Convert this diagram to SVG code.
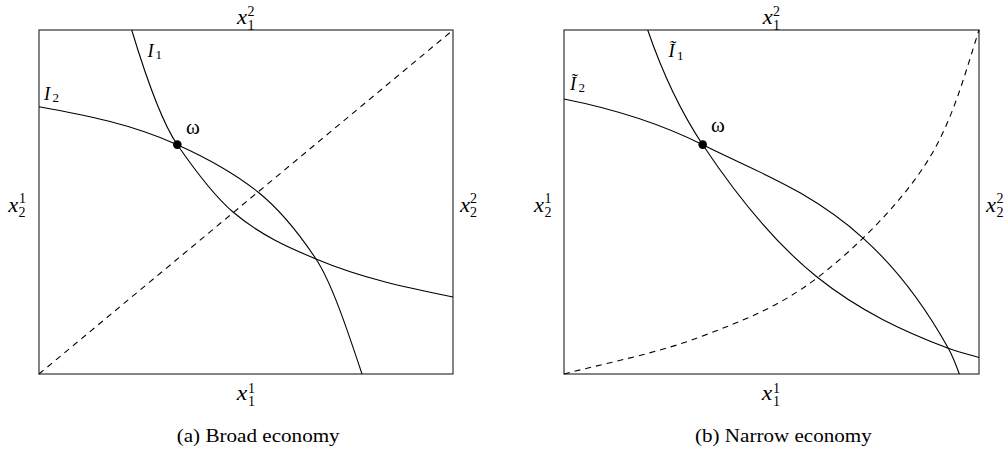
<svg xmlns="http://www.w3.org/2000/svg" width="1008" height="450" viewBox="0 0 1008 450">
<style>
.box{fill:none;stroke:#333;stroke-width:1.2}
.curve{fill:none;stroke:#000;stroke-width:1.1}
.dash{fill:none;stroke:#000;stroke-width:1.1;stroke-dasharray:6 5}
.mi{font-family:"Liberation Serif",serif;font-style:italic;font-size:20px;fill:#000}
.sc{font-family:"Liberation Serif",serif;font-size:14px;fill:#000}
.il{font-family:"Liberation Serif",serif;font-style:italic;font-size:18.5px;fill:#000}
.isc{font-family:"Liberation Serif",serif;font-size:13px;fill:#000}
.om{font-family:"Liberation Serif",serif;font-size:21px;fill:#000}
.cap{font-family:"Liberation Serif",serif;font-size:18.5px;fill:#000}
</style>
<rect width="1008" height="450" fill="#fff"/>

<g id="panel-a">
  <rect id="box-a" class="box" x="39" y="30" width="414" height="344"/>
  <g id="connectors-a">
    <path id="diag-a" class="dash" d="M39,374 L453,30"/>
    <path id="I1-a" class="curve" d="M131.7,30 C146.9,80.2 162.1,122.7 177.3,144.7 C195.9,171.6 214.4,196.2 233,212 C260.7,235.5 288.3,247.4 316,259 C361.7,278.2 407.3,287.9 453,297"/>
    <path id="I2-a" class="curve" d="M39,106.7 C85.1,115 131.2,124 177.3,144.7 C204.2,156.8 231.1,170.5 258,192 C277.3,207.5 296.7,230 316,259 C331.3,282 346.7,328 362,374"/>
  </g>
  <g id="omega-a">
    <circle cx="177.3" cy="144.6" r="4.3" fill="#000"/>
    <text class="om" x="186" y="133.5">ω</text>
  </g>
  <g id="label-I1-a"><text class="il" x="147.5" y="56.5">I</text><text class="isc" x="155.5" y="59">1</text></g>
  <g id="label-I2-a"><text class="il" x="44" y="99.5">I</text><text class="isc" x="52.5" y="102">2</text></g>
  <g id="label-top-a"><text class="mi" x="237" y="23.5" textLength="10" lengthAdjust="spacingAndGlyphs">x</text><text class="sc" x="247.5" y="16">2</text><text class="sc" x="247.5" y="29.5">1</text></g>
  <g id="label-bottom-a"><text class="mi" x="236.7" y="400" textLength="10.5" lengthAdjust="spacingAndGlyphs">x</text><text class="sc" x="248" y="392.5">1</text><text class="sc" x="248" y="406">1</text></g>
  <g id="label-left-a"><text class="mi" x="8.3" y="211.5" textLength="10" lengthAdjust="spacingAndGlyphs">x</text><text class="sc" x="19" y="203">1</text><text class="sc" x="18.5" y="217">2</text></g>
  <g id="label-right-a"><text class="mi" x="460" y="211.5" textLength="10" lengthAdjust="spacingAndGlyphs">x</text><text class="sc" x="470" y="203">2</text><text class="sc" x="470" y="217">2</text></g>
  <text id="caption-a" class="cap" x="176.7" y="441.5" textLength="163" lengthAdjust="spacingAndGlyphs">(a) Broad economy</text>
</g>

<g id="panel-b">
  <rect id="box-b" class="box" x="564" y="30" width="415" height="344"/>
  <g id="connectors-b">
    <path id="curve-b" class="dash" d="M564,374 C609.3,362.3 657.8,353 700,337 C742.2,321 779.5,306.7 817,278 C854.5,249.3 898,206.3 925,165 C952,123.7 964,76.7 979,30"/>
    <path id="I1-b" class="curve" d="M647.7,30 C666,83.2 684.4,117.2 702.7,144.7 C740.7,201.7 778.7,246.3 816.7,276.7 C860.6,311.8 904.4,331.6 948.3,348.3 C958.5,352.2 968.8,354.6 979,357.5"/>
    <path id="I2-b" class="curve" d="M564,99 C610.2,108.2 656.5,121.6 702.7,144.7 C756.2,171.5 809.8,190.1 863.3,238.3 C891.6,263.8 920,297.3 948.3,348.3 C952,354.9 955.6,363.7 959.3,374"/>
  </g>
  <g id="omega-b">
    <circle cx="702.7" cy="144.6" r="4.3" fill="#000"/>
    <text class="om" x="711" y="131.7">ω</text>
  </g>
  <g id="label-I1-b"><text class="il" x="668.5" y="57">Ĩ</text><text class="isc" x="677" y="59.5">1</text></g>
  <g id="label-I2-b"><text class="il" x="570" y="89.5">Ĩ</text><text class="isc" x="578.5" y="92">2</text></g>
  <g id="label-top-b"><text class="mi" x="762.7" y="23.5" textLength="10" lengthAdjust="spacingAndGlyphs">x</text><text class="sc" x="773" y="16">2</text><text class="sc" x="773" y="29.5">1</text></g>
  <g id="label-bottom-b"><text class="mi" x="761.7" y="400" textLength="10.5" lengthAdjust="spacingAndGlyphs">x</text><text class="sc" x="773" y="392.5">1</text><text class="sc" x="773" y="406">1</text></g>
  <g id="label-left-b"><text class="mi" x="534" y="211.5" textLength="10" lengthAdjust="spacingAndGlyphs">x</text><text class="sc" x="544.5" y="203">1</text><text class="sc" x="544.5" y="217">2</text></g>
  <g id="label-right-b"><text class="mi" x="986" y="211.5" textLength="10" lengthAdjust="spacingAndGlyphs">x</text><text class="sc" x="996.5" y="203">2</text><text class="sc" x="996.5" y="217">2</text></g>
  <text id="caption-b" class="cap" x="695" y="441.5" textLength="176.7" lengthAdjust="spacingAndGlyphs">(b) Narrow economy</text>
</g>
</svg>
